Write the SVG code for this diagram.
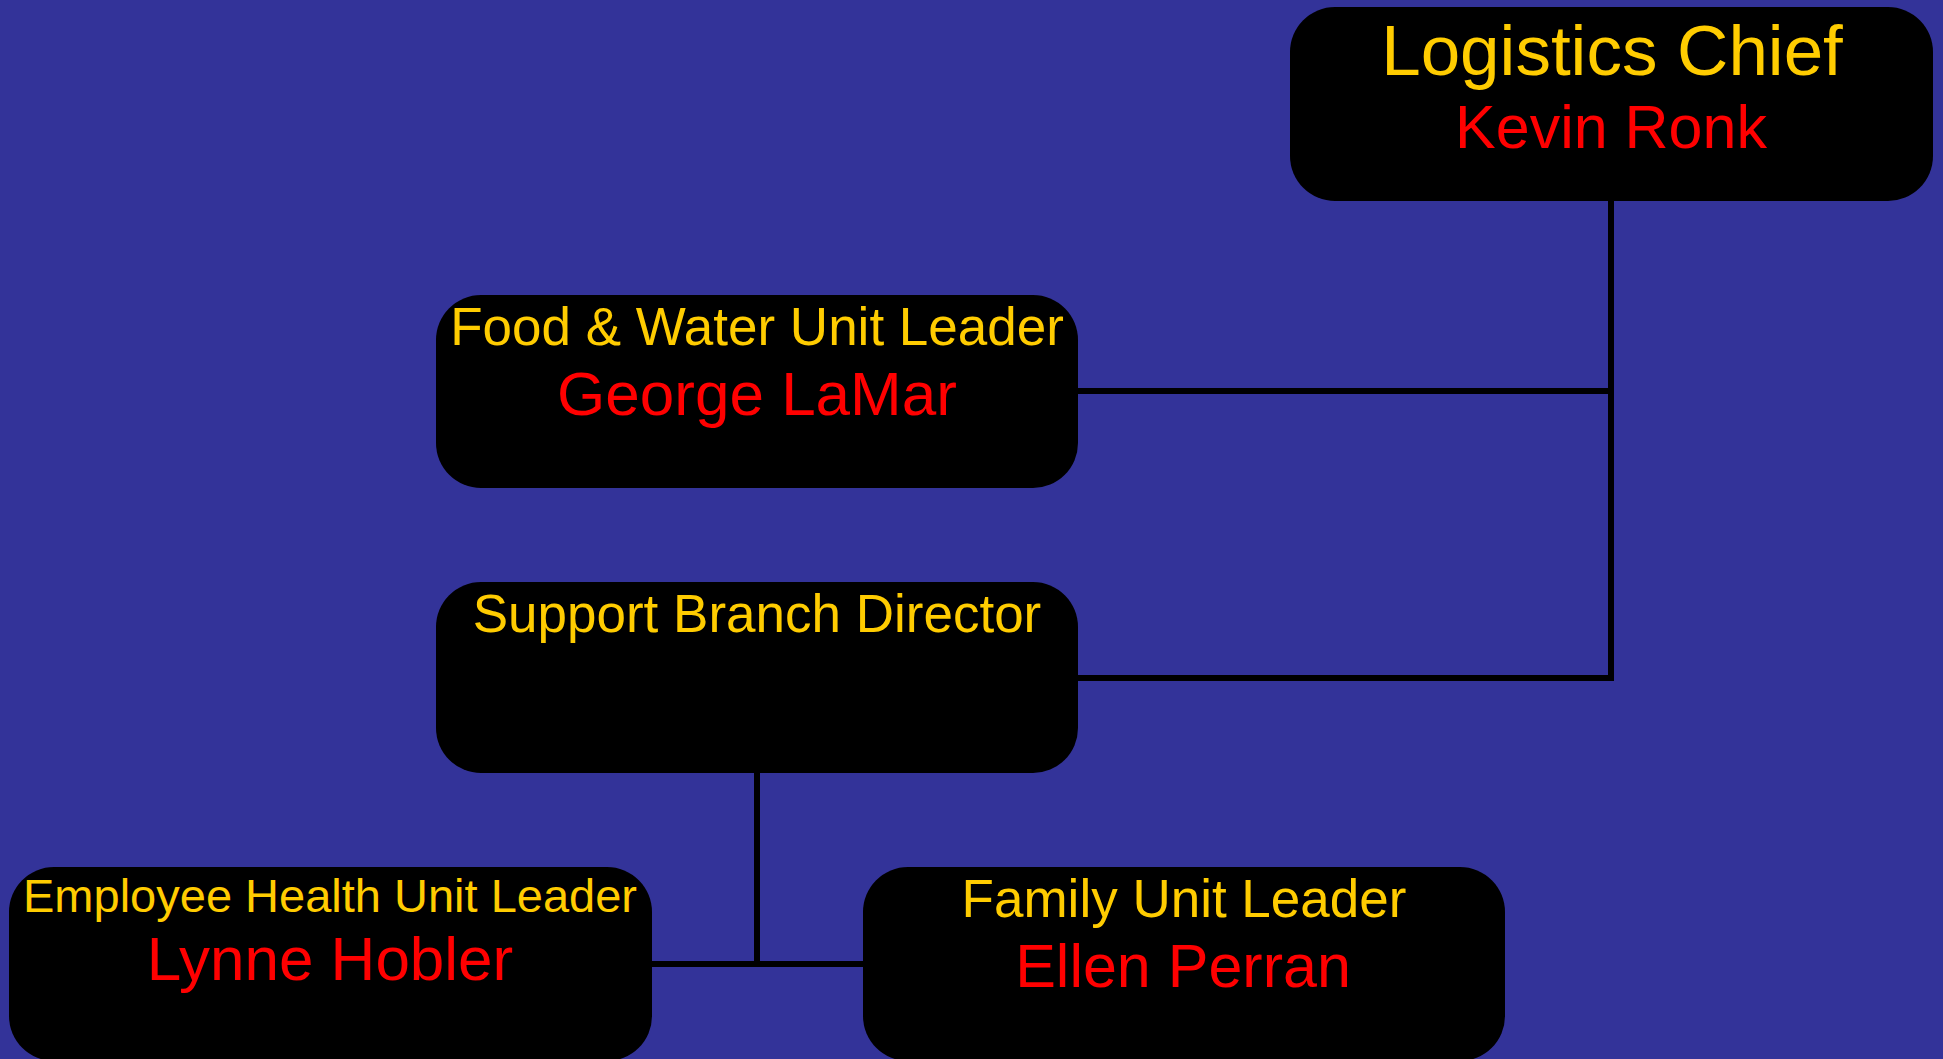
<svg xmlns="http://www.w3.org/2000/svg" width="1943" height="1059" viewBox="0 0 1943 1059">
<style>
.box{fill:#000000;}
.t{font-family:"Liberation Sans",Arial,sans-serif;fill:#FFCC00;text-anchor:middle;}
.n{font-family:"Liberation Sans",Arial,sans-serif;fill:#FF0000;text-anchor:middle;}
.c{fill:none;stroke:#000000;stroke-width:6;}
</style>
<rect x="0" y="0" width="1943" height="1059" fill="#333399"/>
<g id="connectors">
<polyline class="c" points="1611,201 1611,678 1078,678"/>
<line class="c" x1="1078" y1="391" x2="1611" y2="391"/>
<line class="c" x1="757" y1="772" x2="757" y2="964"/>
<line class="c" x1="652" y1="964" x2="863" y2="964"/>
</g>
<g id="logistics-chief">
<rect class="box" x="1290" y="7" width="643" height="194" rx="45" ry="45"/>
<text class="t" x="1612" y="75" font-size="71">Logistics Chief</text>
<text class="n" x="1611" y="148" font-size="61">Kevin Ronk</text>
</g>
<g id="food-water">
<rect class="box" x="436" y="295" width="642" height="193" rx="45" ry="45"/>
<text class="t" x="757" y="345" font-size="53">Food &amp; Water Unit Leader</text>
<text class="n" x="757" y="415" font-size="62">George LaMar</text>
</g>
<g id="support-branch">
<rect class="box" x="436" y="582" width="642" height="191" rx="45" ry="45"/>
<text class="t" x="757" y="632" font-size="53">Support Branch Director</text>
</g>
<g id="employee-health">
<rect class="box" x="9" y="867" width="643" height="194" rx="45" ry="45"/>
<text class="t" x="330" y="912" font-size="47">Employee Health Unit Leader</text>
<text class="n" x="330" y="980" font-size="62">Lynne Hobler</text>
</g>
<g id="family-unit">
<rect class="box" x="863" y="867" width="642" height="194" rx="45" ry="45"/>
<text class="t" x="1184" y="917" font-size="53">Family Unit Leader</text>
<text class="n" x="1183" y="987" font-size="61">Ellen Perran</text>
</g>
</svg>
